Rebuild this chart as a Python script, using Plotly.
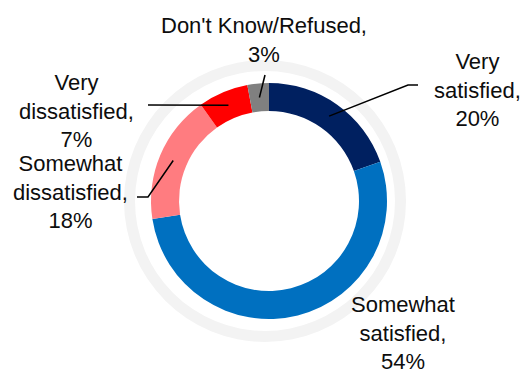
import math
import plotly.graph_objects as go

# ---- data ----
categories = ["Very satisfied", "Somewhat satisfied", "Somewhat dissatisfied",
              "Very dissatisfied", "Don't Know/Refused"]
values = [20, 54, 18, 7, 3]
colors = ["#002060", "#0070C0", "#FF7C80", "#FF0000", "#808080"]
label_text = ["Very<br>satisfied,<br>20%",
              "Somewhat<br>satisfied,<br>54%",
              "Somewhat<br>dissatisfied,<br>18%",
              "Very<br>dissatisfied,<br>7%",
              "Don't Know/Refused,<br>3%"]

W, H = 523, 374
CX, CY = 269, 201          # donut centre (px, from top)
R_OUT, R_IN = 118, 90      # donut radii (px)
RING_C = (265, 201)
RING_OUT, RING_IN = 141, 130


def px(x):
    return x / W


def py(y):
    return (H - y) / H


fig = go.Figure()

# faint background ring
fig.add_trace(go.Pie(
    values=[1], marker=dict(colors=["#F3F3F3"], line=dict(width=0)),
    hole=RING_IN / RING_OUT, textinfo="none", hoverinfo="skip", showlegend=False,
    sort=False,
    domain=dict(x=[px(RING_C[0] - RING_OUT), px(RING_C[0] + RING_OUT)],
                y=[py(RING_C[1] + RING_OUT), py(RING_C[1] - RING_OUT)]),
))

fig.add_trace(go.Pie(
    labels=categories, values=values, sort=False, direction="clockwise",
    rotation=0, hole=R_IN / R_OUT,
    marker=dict(colors=colors, line=dict(width=0)),
    textinfo="none", showlegend=False,
    domain=dict(x=[px(CX - R_OUT), px(CX + R_OUT)],
                y=[py(CY + R_OUT), py(CY - R_OUT)]),
))

# slice mid-angle anchors computed from the data
total = sum(values)
anchors = []
cum = 0
r_mid = (R_OUT + R_IN) / 2
for v in values:
    ang = (cum + v / 2) / total * 2 * math.pi
    anchors.append((CX + r_mid * math.sin(ang), CY - r_mid * math.cos(ang)))
    cum += v

# label layout: (text centre x, centre y, leader path points after anchor)
label_pos = [
    (477, 90, [(408, 85), (418, 85)]),
    (403, 333, []),
    (70, 192, [(148, 197), (137, 197)]),
    (76, 111, [(148, 105)]),
    (264, 40, [(265, 75)]),
]

for i, (lx, ly, pts) in enumerate(label_pos):
    fig.add_annotation(
        x=px(lx), y=py(ly), xref="paper", yref="paper",
        text=label_text[i], showarrow=False, xanchor="center", yanchor="middle",
        align="center",
        font=dict(family="Liberation Sans, Arial, sans-serif", size=22, color="#0d0d0d"),
    )
    if pts:
        ax, ay = anchors[i]
        path = f"M {px(ax)},{py(ay)}"
        for (qx, qy) in pts:
            path += f" L {px(qx)},{py(qy)}"
        fig.add_shape(type="path", path=path, xref="paper", yref="paper",
                      line=dict(color="#000000", width=1.5))

fig.update_layout(
    width=W, height=H,
    margin=dict(l=0, r=0, t=0, b=0),
    paper_bgcolor="white", plot_bgcolor="white",
)

fig.write_html("out.html", config={"displayModeBar": False},
               post_script="document.body.style.margin='0';document.body.style.overflow='hidden';")
